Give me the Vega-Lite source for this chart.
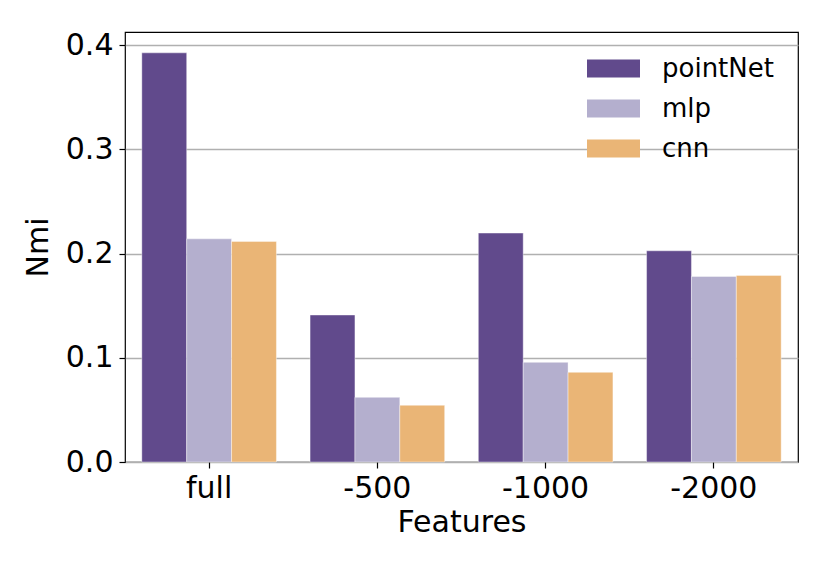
{
  "$schema": "https://vega.github.io/schema/vega-lite/v6.json",
  "width": 673,
  "height": 430,
  "autosize": {"type": "none"},
  "padding": {"left": 125, "top": 32, "right": 32, "bottom": 108},
  "background": "white",
  "config": {
    "font": "DejaVu Sans",
    "view": {"stroke": "#000000", "strokeWidth": 1.2},
    "axis": {"labelFont": "DejaVu Sans", "titleFont": "DejaVu Sans", "titleFontWeight": "normal", "labelColor": "#000", "titleColor": "#000"}
  },
  "data": {
    "values": [
      {"Features": "full", "model": "pointNet", "Nmi": 0.3925},
      {"Features": "full", "model": "mlp", "Nmi": 0.2141},
      {"Features": "full", "model": "cnn", "Nmi": 0.2116},
      {"Features": "-500", "model": "pointNet", "Nmi": 0.141},
      {"Features": "-500", "model": "mlp", "Nmi": 0.062},
      {"Features": "-500", "model": "cnn", "Nmi": 0.0544},
      {"Features": "-1000", "model": "pointNet", "Nmi": 0.2196},
      {"Features": "-1000", "model": "mlp", "Nmi": 0.0956},
      {"Features": "-1000", "model": "cnn", "Nmi": 0.086},
      {"Features": "-2000", "model": "pointNet", "Nmi": 0.2026},
      {"Features": "-2000", "model": "mlp", "Nmi": 0.178},
      {"Features": "-2000", "model": "cnn", "Nmi": 0.179}
    ]
  },
  "mark": {"type": "bar", "stroke": "#ffffff", "strokeOpacity": 0.5, "strokeWidth": 0.8},
  "encoding": {
    "x": {
      "field": "Features", "type": "nominal",
      "sort": ["full", "-500", "-1000", "-2000"],
      "scale": {"paddingInner": 0.2, "paddingOuter": 0.1},
      "axis": {"title": "Features", "labelAngle": 0, "labelFontSize": 30, "titleFontSize": 30, "labelPadding": 5, "titlePadding": 4, "tickSize": 6, "tickColor": "#000", "tickWidth": 1.2, "domain": false, "grid": false, "tickBand": "center"}
    },
    "xOffset": {"field": "model", "type": "nominal", "sort": ["pointNet", "mlp", "cnn"], "scale": {"paddingInner": 0, "paddingOuter": 0}},
    "y": {
      "field": "Nmi", "type": "quantitative",
      "scale": {"domain": [0, 0.4125], "nice": false, "zero": true},
      "axis": {"title": "Nmi", "values": [0, 0.1, 0.2, 0.3, 0.4], "format": ".1f", "labelFontSize": 30, "titleFontSize": 30, "labelPadding": 6, "titlePadding": 12, "tickSize": 6, "tickColor": "#000", "tickWidth": 1.2, "domain": false, "grid": true, "gridColor": "#b0b0b0", "gridWidth": 1.5}
    },
    "color": {
      "field": "model", "type": "nominal",
      "sort": ["pointNet", "mlp", "cnn"],
      "scale": {"domain": ["pointNet", "mlp", "cnn"], "range": ["#614a8c", "#b4afce", "#eab576"]},
      "legend": {
        "title": null, "orient": "none", "legendX": 462, "legendY": 10,
        "symbolType": "M-1,-0.34H1V0.34H-1Z", "symbolSize": 2809, "symbolStrokeWidth": 0,
        "labelFontSize": 26, "labelFont": "DejaVu Sans", "labelColor": "#000", "labelOffset": 22,
        "rowPadding": -1, "padding": 0
      }
    }
  }
}
